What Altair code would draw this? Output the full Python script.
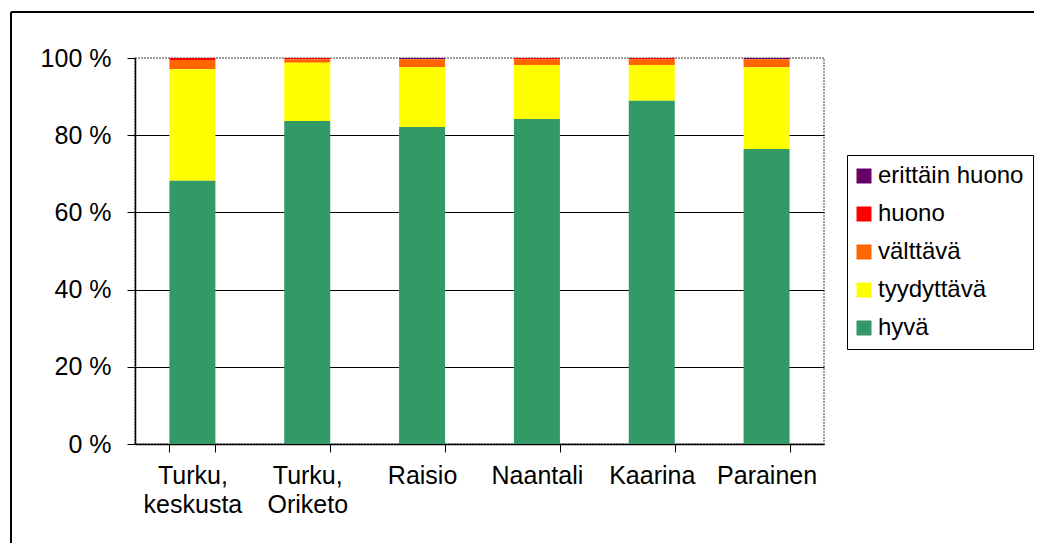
import altair as alt
import pandas as pd

places = ["Turku, keskusta", "Turku, Oriketo", "Raisio", "Naantali", "Kaarina", "Parainen"]
classes = ["erittäin huono", "huono", "välttävä", "tyydyttävä", "hyvä"]
colors = ["#660066", "#FF0000", "#FF6600", "#FFFF00", "#339966"]

hyva = [68.2, 83.7, 82.1, 84.2, 88.9, 76.4]
tyydyttava = [28.9, 15.1, 15.6, 14.0, 9.3, 21.2]
valttava = [2.4, 0.8, 2.0, 1.4, 1.4, 2.1]
huono = [0.5, 0.4, 0.0, 0.4, 0.4, 0.0]
erittain_huono = [0.0, 0.0, 0.3, 0.0, 0.0, 0.3]

series = [erittain_huono, huono, valttava, tyydyttava, hyva]
rows = []
for ci, (cls, vals) in enumerate(zip(classes, series)):
    for p, v in zip(places, vals):
        rows.append({"place": p, "class": cls, "idx": ci, "value": v})
df = pd.DataFrame(rows)

FONT = "Liberation Sans"

bars = alt.Chart(df).mark_bar(size=46).encode(
    x=alt.X("place:N", sort=places, title=None,
            scale=alt.Scale(paddingInner=0.6, paddingOuter=0.3),
            axis=alt.Axis(labelAngle=0, tickBand="extent", tickSize=8,
                          tickColor="black", domainColor="black", domainWidth=1.5,
                          labelPadding=11, labelLineHeight=29, labelFontSize=25,
                          labelFont=FONT, labelColor="black",
                          labelExpr="split(replace(datum.label, ', ', ',|'), '|')")),
    y=alt.Y("value:Q", stack="normalize", title=None,
            scale=alt.Scale(domain=[0, 1]),
            axis=alt.Axis(values=[0, 0.2, 0.4, 0.6, 0.8, 1.0],
                          labelExpr="format(datum.value*100, 'd') + ' %'",
                          tickSize=8, tickColor="black", domainColor="black",
                          domainWidth=1.5, labelPadding=16, labelFontSize=25,
                          labelFont=FONT, labelColor="black",
                          grid=True, gridWidth=1.2,
                          gridColor=alt.condition("datum.value >= 1", alt.value("transparent"), alt.value("black")))),
    color=alt.Color("class:N", sort=classes,
                    scale=alt.Scale(domain=classes, range=colors),
                    legend=alt.Legend(title=None, orient="none", legendX=712, legendY=97,
                                      symbolType="square", symbolSize=225,
                                      symbolStrokeWidth=0, symbolOffset=-4,
                                      labelFontSize=24, labelFont=FONT, labelColor="black",
                                      labelOffset=2, rowPadding=14, padding=9,
                                      strokeColor="black", fillColor="white")),
    order=alt.Order("idx:Q", sort="descending"),
)

frame_df = pd.DataFrame({"a": [0]})
top_line = alt.Chart(frame_df).mark_rule(color="black", strokeWidth=2).encode(
    x=alt.value(-124), x2=alt.value(907), y=alt.value(-46))
left_line = alt.Chart(frame_df).mark_rule(color="black", strokeWidth=2).encode(
    x=alt.value(-124), y=alt.value(-46), y2=alt.value(493))

chart = alt.layer(bars, top_line, left_line).properties(
    width=689, height=386,
    autosize=alt.AutoSizeParams(type="none"),
    padding={"left": 127, "top": 50, "right": 210, "bottom": 99},
    background="white",
).configure_view(stroke="#808080", strokeWidth=1.5, strokeDash=[2, 1])

chart.save("out.html", embed_options={"renderer": "svg", "actions": False})
